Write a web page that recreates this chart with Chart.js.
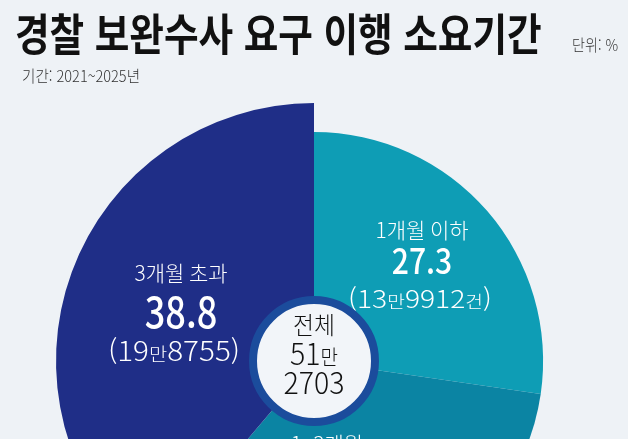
<!DOCTYPE html>
<html lang="ko">
<head>
<meta charset="utf-8">
<script src="https://cdn.jsdelivr.net/npm/chart.js@4.4.1/dist/chart.umd.min.js"></script>
<style>
	html, body { margin: 0; padding: 0; background: #eef2f6; }
	#wrap { position: relative; width: 628px; height: 439px; overflow: hidden; background: #eef2f6; font-family: "Noto Sans CJK KR", sans-serif; }
	#chart { position: absolute; left: 0; top: 0; }
	.title { position: absolute; left: 15px; top: 10px; font-size: 44px; line-height: 44px; font-weight: 700; color: #111; white-space: nowrap; transform: scaleX(0.855); transform-origin: 0 0; }
	.unit { position: absolute; left: 572px; top: 36px; font-size: 16px; line-height: 16px; font-weight: 300; color: #333; white-space: nowrap; transform: scaleX(0.88); transform-origin: 0 0; }
	.period { position: absolute; left: 22px; top: 67px; font-size: 16px; line-height: 16px; font-weight: 300; color: #333; white-space: nowrap; transform: scaleX(0.91); transform-origin: 0 0; }
</style>
</head>
<body>
<div id="wrap">
	<canvas id="chart" width="628" height="640"></canvas>
	<div class="title">경찰 보완수사 요구 이행 소요기간</div>
	<div class="unit">단위: %</div>
	<div class="period">기간: 2021~2025년</div>
</div>
<script>
// data
var categories = ['1개월 이하', '1~3개월', '3개월 초과'];
var shares = [27.3, 33.9, 38.8];
var counts = ['(13만9912건)', '', '(19만8755)'];
var totalLines = ['전체', '51만', '2703'];

// style
var sliceColors = ['#0e9db5', '#0b84a3', '#1f2e87'];
var radiusScale = [0.888, 0.888, 1];
var labelOffset = [[108, -100], [13, 120], [-133, -49]];
var lineDy = [[-31, 0, 38], [-37, 0, 38], [-39, 0, 39]];
var countDx = [-2, 0, -7];
var valueSize = [35, 35, 42];
var countSize = [25, 25, 27];
var countSx = [1.13, 1.1, 1.1];
var FONT = '"Noto Sans CJK KR", sans-serif';

function setFont(ctx, size, weight) {
	ctx.font = weight + ' ' + size + 'px ' + FONT;
}

// 한글은 작게, 숫자는 크게 한 줄로 그림
function drawMixed(ctx, text, x, y, size, weight, color, sx) {
	var runs = text.match(/[가-힣]+|[^가-힣]+/g) || [];
	var sizes = runs.map(function(r) { return /[가-힣]/.test(r) ? Math.round(size * 0.68) : size; });
	var widths = runs.map(function(r, i) { setFont(ctx, sizes[i], weight); return ctx.measureText(r).width; });
	var total = widths.reduce(function(a, b) { return a + b; }, 0);
	ctx.save();
	ctx.translate(x, y + size * 0.365);
	ctx.scale(sx, 1);
	ctx.fillStyle = color;
	ctx.textAlign = 'left';
	ctx.textBaseline = 'alphabetic';
	var px = -total / 2;
	runs.forEach(function(r, i) {
		setFont(ctx, sizes[i], weight);
		ctx.fillText(r, px, 0);
		px += widths[i];
	});
	ctx.restore();
}

function drawPlain(ctx, text, x, y, size, weight, color, sx) {
	ctx.save();
	ctx.translate(x, y);
	ctx.scale(sx, 1);
	setFont(ctx, size, weight);
	ctx.fillStyle = color;
	ctx.textAlign = 'center';
	ctx.textBaseline = 'middle';
	ctx.fillText(text, 0, 0);
	ctx.restore();
}

var pieLabels = {
	id: 'pieLabels',
	afterDatasetsUpdate: function(chart) {
		var arcs = chart.getDatasetMeta(0).data;
		arcs.forEach(function(arc, i) {
			arc.outerRadius = arc.outerRadius * radiusScale[i];
		});
	},
	afterDatasetsDraw: function(chart) {
		var ctx = chart.ctx;
		var arcs = chart.getDatasetMeta(0).data;
		var cx = arcs[0].x;
		var cy = arcs[0].y;

		arcs.forEach(function(arc, i) {
			var x = cx + labelOffset[i][0];
			var y = cy + labelOffset[i][1];
			drawPlain(ctx, categories[i], x, y + lineDy[i][0], 21, 300, '#ffffff', 1);
			drawPlain(ctx, shares[i].toFixed(1), x, y + lineDy[i][1], valueSize[i], 500, '#ffffff', 0.86);
			if (counts[i]) {
				drawMixed(ctx, counts[i], x + countDx[i], y + lineDy[i][2], countSize[i], 300, '#ffffff', countSx[i]);
			}
		});

		// 가운데 원
		ctx.save();
		ctx.beginPath();
		ctx.arc(cx, cy, 61, 0, Math.PI * 2);
		ctx.fillStyle = '#f2f5f9';
		ctx.fill();
		ctx.lineWidth = 8;
		ctx.strokeStyle = '#1b4c9c';
		ctx.stroke();
		ctx.restore();

		drawPlain(ctx, totalLines[0], cx, cy - 36, 24, 300, '#111111', 0.95);
		drawMixed(ctx, totalLines[1], cx, cy - 7, 30, 300, '#111111', 0.95);
		drawMixed(ctx, totalLines[2], cx, cy + 22, 30, 300, '#111111', 0.95);
	}
};

var ctx = document.getElementById('chart');
var myChart = new Chart(ctx, {
	type: 'pie',
	data: {
		labels: categories,
		datasets: [{
			data: shares,
			backgroundColor: sliceColors,
			borderWidth: 0
		}]
	},
	options: {
		responsive: false,
		animation: false,
		layout: { padding: { left: 56, right: 56, top: 103, bottom: 21 } },
		plugins: {
			legend: { display: false },
			tooltip: { enabled: false }
		}
	},
	plugins: [pieLabels]
});
</script>
</body>
</html>
